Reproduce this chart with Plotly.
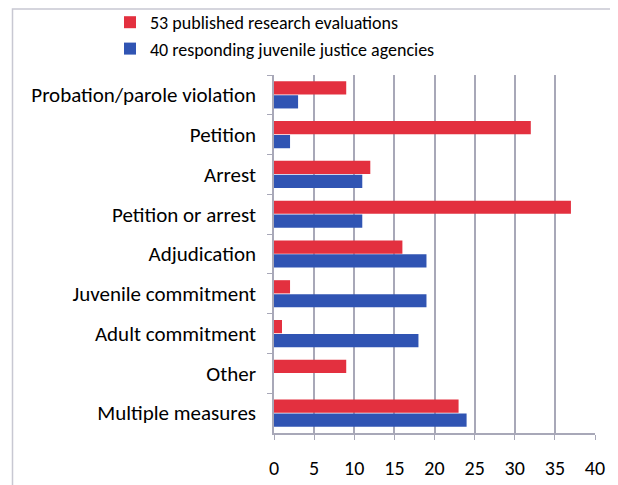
import plotly.graph_objects as go

categories = ["Probation/parole violation", "Petition", "Arrest", "Petition or arrest",
              "Adjudication", "Juvenile commitment", "Adult commitment", "Other",
              "Multiple measures"]
research_evals = [9, 32, 12, 37, 16, 2, 1, 9, 23]
agencies = [3, 2, 11, 11, 19, 19, 18, 0, 24]
series_names = ["53 published research evaluations", "40 responding juvenile justice agencies"]
x_ticks = [0, 5, 10, 15, 20, 25, 30, 35, 40]

FONT = "Carlito, Lato, sans-serif"
OFF = 8  # page body margin in the browser
W, H = 618 - OFF, 485 - OFF
L, R, T, B = 274 - OFF, 23, 75 - OFF, 52
pw, ph = W - L - R, H - T - B

def px_x(p):  # page pixel -> paper x
    return (p - OFF - L) / pw

def px_y(p):  # page pixel -> paper y
    return 1 - (p - OFF - T) / ph

fig = go.Figure()
fig.add_trace(go.Bar(y=categories, x=research_evals, orientation="h", name=series_names[0],
                     marker=dict(color="#E3303F", line=dict(width=0))))
fig.add_trace(go.Bar(y=categories, x=agencies, orientation="h", name=series_names[1],
                     marker=dict(color="#3054B3", line=dict(width=0))))

fig.update_layout(
    width=W, height=H,
    margin=dict(l=L, r=R, t=T, b=B, autoexpand=False),
    paper_bgcolor="white", plot_bgcolor="white",
    barmode="group", bargap=0.3, bargroupgap=0.05,
    font=dict(family=FONT, color="black", size=16),
    legend=dict(x=px_x(110), y=px_y(4), xanchor="left", yanchor="top",
                font=dict(size=18, family=FONT), itemwidth=30, tracegroupgap=0,
                bgcolor="rgba(0,0,0,0)"),
    shapes=[dict(type="rect", xref="paper", yref="paper",
                 x0=px_x(12.5), x1=px_x(640), y0=px_y(500), y1=px_y(9),
                 line=dict(color="#C8C8D2", width=1.5), fillcolor="rgba(0,0,0,0)", layer="below")],
)
fig.update_xaxes(range=[0, 40], tickvals=x_ticks, showgrid=True, gridcolor="#A8A8B8", gridwidth=1.5,
                 showline=True, linecolor="#A8A8B8", linewidth=1.5, ticks="outside", ticklen=5,
                 tickcolor="#A8A8B8", tickfont=dict(size=20, family=FONT), ticklabelstandoff=11,
                 zeroline=False, automargin=False, tickangle=0)
fig.update_yaxes(autorange="reversed", type="category", showline=True, linecolor="#A8A8B8",
                 linewidth=1.5, ticks="outside", ticklen=5, tickcolor="#A8A8B8",
                 tickson="boundaries", tickfont=dict(size=21, family=FONT), showgrid=False,
                 ticklabelstandoff=12, automargin=False)

fig.write_html("out.html")
